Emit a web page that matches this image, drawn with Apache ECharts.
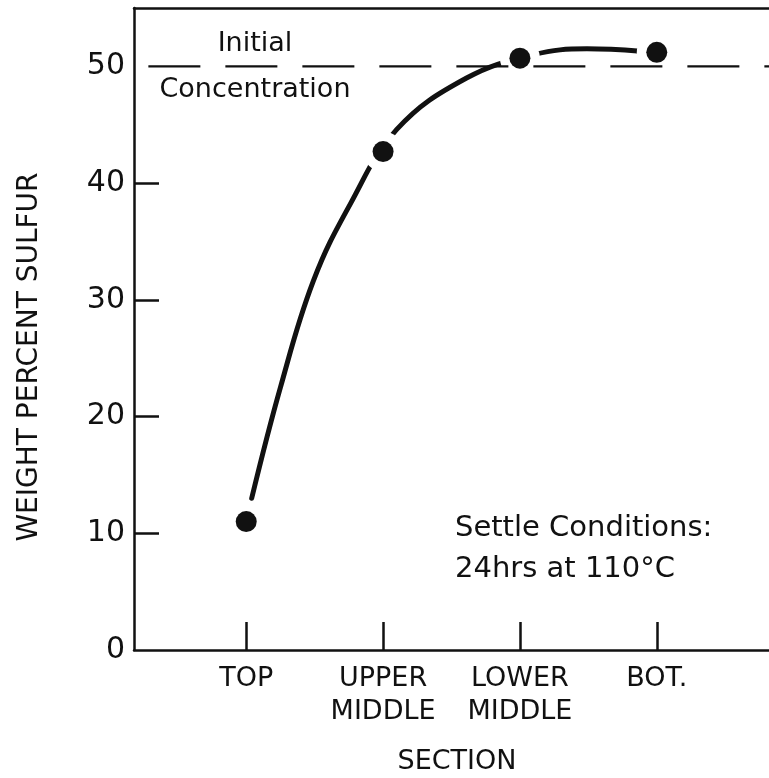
<!DOCTYPE html>
<html>
<head>
<meta charset="utf-8">
<script src="https://cdn.jsdelivr.net/npm/echarts@6/dist/echarts.min.js"></script>
<style>
html,body{margin:0;padding:0;background:#fff;}
#chart{width:769px;height:778px;}
</style>
</head>
<body>
<div id="chart"></div>
<script>
const categories = ['TOP', 'UPPER\nMIDDLE', 'LOWER\nMIDDLE', 'BOT.'];
const sectionPos = [1, 2, 3, 4];
const sulfur = [11.0, 42.7, 50.7, 51.2];
const curveX = [1.04, 1.25, 1.49, 1.76, 2.10, 2.61, 3.10, 3.49, 3.88];
const curveY = [13.0, 22.5, 31.6, 38.2, 44.6, 49.0, 51.0, 51.5, 51.3];
const initialConc = 50;
const initialX = [0.285, 4.82];
const yTickLabels = [0, 10, 20, 30, 40, 50];
const yTickMarks = [10, 20, 30, 40];

const FONT = '"DejaVu Sans", sans-serif';
const INK = '#111';

const chart = echarts.init(document.getElementById('chart'), null, {renderer: 'canvas'});
const pts = sectionPos.map((x, i) => [x, sulfur[i]]);
const curve = curveX.map((x, i) => [x, curveY[i]]);
const dash = initialX.map(x => [x, initialConc]);

chart.setOption({
  animation: false,
  backgroundColor: '#fff',
  grid: {left: 134, right: 0, top: 8, bottom: 128, containLabel: false},
  xAxis: [{
    type: 'value', min: 0.18, max: 4.82, position: 'bottom',
    axisLine: {show: true, onZero: false, lineStyle: {color: INK, width: 2.5}},
    axisTick: {show: true, inside: true, length: 28, customValues: sectionPos, lineStyle: {color: INK, width: 2.5}},
    axisLabel: {
      show: true, customValues: sectionPos, margin: 12,
      fontFamily: FONT, fontSize: 27, lineHeight: 33, color: INK,
      formatter: v => categories[sectionPos.indexOf(Math.round(v))] || ''
    },
    splitLine: {show: false}
  }, {
    type: 'value', min: 0.18, max: 4.82, position: 'top',
    axisLine: {show: true, onZero: false, lineStyle: {color: INK, width: 2.5}},
    axisTick: {show: false}, axisLabel: {show: false}, splitLine: {show: false}
  }],
  yAxis: {
    type: 'value', min: 0, max: 55,
    axisLine: {show: true, onZero: false, lineStyle: {color: INK, width: 2.5}},
    axisTick: {show: true, inside: true, length: 25, customValues: yTickMarks, lineStyle: {color: INK, width: 2.5}},
    axisLabel: {show: true, customValues: yTickLabels, margin: 9, fontFamily: FONT, fontSize: 30, color: INK},
    splitLine: {show: false}
  },
  series: [
    {
      type: 'line', data: curve, smooth: 0.4, showSymbol: false, z: 2,
      lineStyle: {color: INK, width: 5, cap: 'round'}
    },
    {
      type: 'scatter', data: pts, symbol: 'circle', symbolSize: 40, z: 3,
      itemStyle: {color: '#fff', opacity: 1}, silent: true
    },
    {
      type: 'line', data: dash, showSymbol: false, z: 4,
      lineStyle: {color: INK, width: 2.2, type: [52, 25]}
    },
    {
      type: 'scatter', data: pts, symbol: 'circle', symbolSize: 21, z: 5,
      itemStyle: {color: INK, opacity: 1}
    }
  ],
  graphic: [
    {type: 'text', x: 255, y: 44, z: 10, style: {text: 'Initial', fontFamily: FONT, fontSize: 27, fill: INK, align: 'center', verticalAlign: 'middle'}},
    {type: 'text', x: 255, y: 90, z: 10, style: {text: 'Concentration', fontFamily: FONT, fontSize: 27, fill: INK, align: 'center', verticalAlign: 'middle'}},
    {type: 'text', x: 455, y: 528, z: 10, style: {text: 'Settle Conditions:', fontFamily: FONT, fontSize: 29, fill: INK, align: 'left', verticalAlign: 'middle'}},
    {type: 'text', x: 455, y: 569, z: 10, style: {text: '24hrs at 110°C', fontFamily: FONT, fontSize: 29, fill: INK, align: 'left', verticalAlign: 'middle'}},
    {type: 'text', x: 457, y: 762, z: 10, style: {text: 'SECTION', fontFamily: FONT, fontSize: 27, fill: INK, align: 'center', verticalAlign: 'middle'}},
    {type: 'text', x: 30, y: 357, rotation: Math.PI / 2, z: 10, style: {text: 'WEIGHT PERCENT SULFUR', fontFamily: FONT, fontSize: 28, fill: INK, align: 'center', verticalAlign: 'middle'}}
  ]
});
</script>
</body>
</html>
